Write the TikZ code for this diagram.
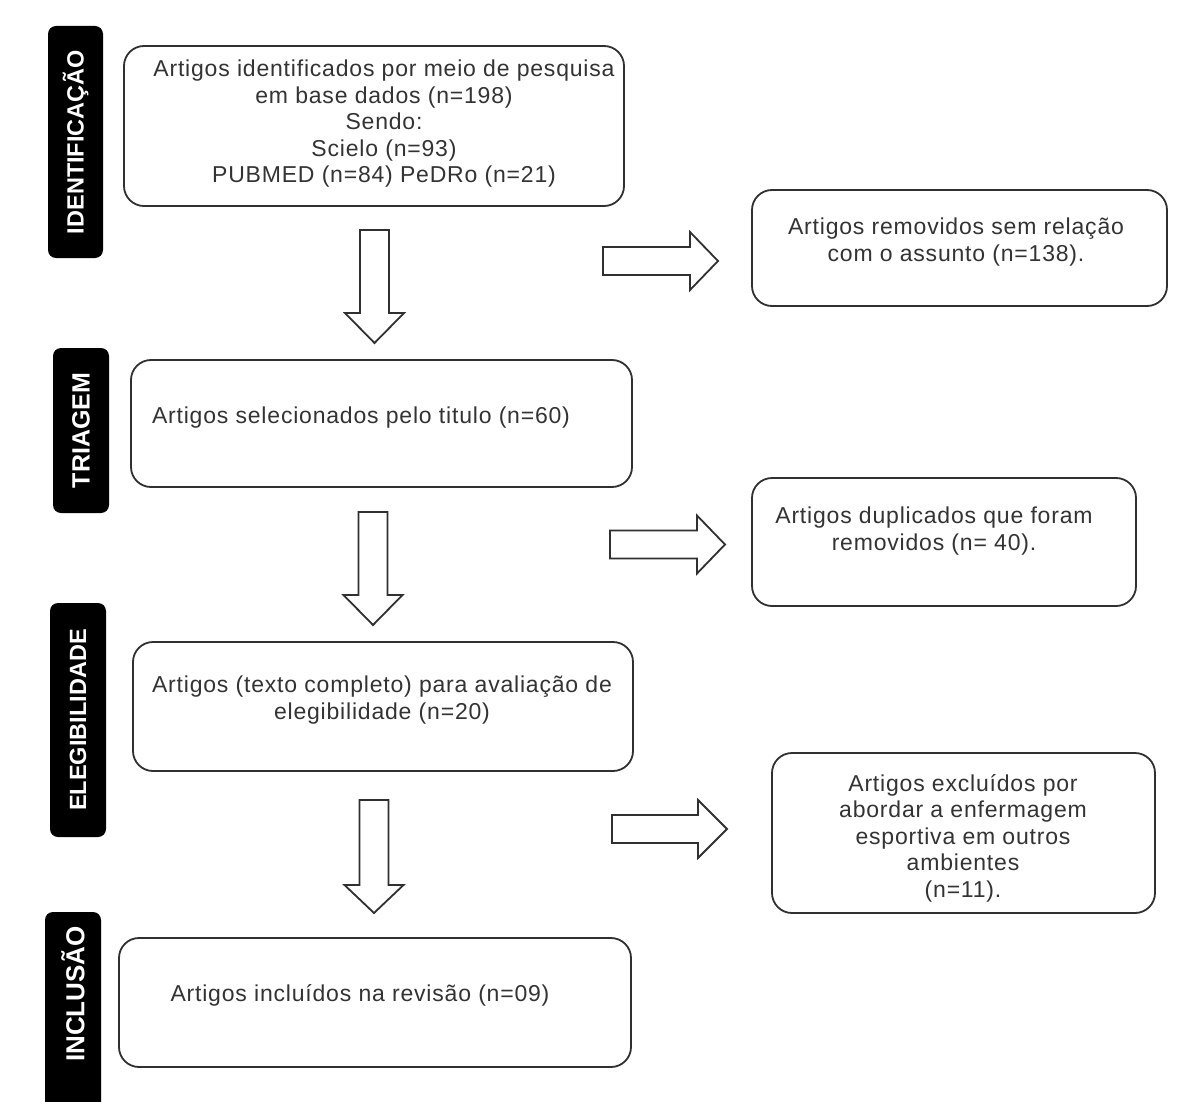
\documentclass[tikz,border=0pt]{standalone}
\usepackage{fontspec}
\setmainfont{Liberation Sans}
\newfontfamily\bodyfont[LetterSpace=3.5]{Liberation Sans}
\newfontfamily\lblfont{Liberation Sans}
\definecolor{linec}{HTML}{303030}
\definecolor{textc}{HTML}{333333}
\newcommand\DArr[4]{%
  \draw[blk] (#1-14.5,#2) -- (#1+14.5,#2) -- (#1+14.5,#3) -- (#1+29.5,#3) -- (#1,#4) -- (#1-29.5,#3) -- (#1-14.5,#3) -- cycle;}
\newcommand\RArr[4]{%
  \draw[blk] (#1,#2-14) -- (#3,#2-14) -- (#3,#2-29) -- (#4,#2) -- (#3,#2+29) -- (#3,#2+14) -- (#1,#2+14) -- cycle;}
\begin{document}
\begin{tikzpicture}[x=1pt,y=-1pt,
  box/.style={draw=linec, line width=1.8pt, rounded corners=20pt, fill=white, inner sep=0pt},
  lbl/.style={fill=black, rounded corners=8pt, inner sep=0pt, text=white, rotate=90,
              font=\lblfont\bfseries\fontsize{23.5}{26}\selectfont},
  lbltxt/.style={inner sep=0pt, text=white, rotate=90, font=\lblfont\bfseries\fontsize{25}{26}\selectfont},
  txt/.style={align=center, text=textc, inner sep=0pt,
              font=\bodyfont\fontsize{23}{26.5}\selectfont},
  blk/.style={draw=linec, line width=1.8pt, fill=white, line join=miter}
]
\useasboundingbox (0,0) rectangle (1196,1102);
\fill[white] (0,0) rectangle (1196,1102);

% stage labels
\node[lbl, minimum width=232pt, minimum height=55pt] (l1) at (75.5,142) {IDENTIFICAÇÃO};
\node[lbl, minimum width=165pt, minimum height=56pt, font=\lblfont\bfseries\fontsize{25}{26}\selectfont] (l2) at (81,430.5) {TRIAGEM};
\node[lbl, minimum width=234pt, minimum height=56pt] (l3) at (78,720) {ELEGIBILIDADE};
\begin{scope}
\clip (0,0) rectangle (1196,1102);
\node[lbl, minimum width=210pt, minimum height=56pt] (l4) at (73,1017) {};
\end{scope}
\node[lbltxt, font=\lblfont\bfseries\fontsize{26}{26}\selectfont] (l4t) at (73,994) {INCLUSÃO};

% boxes
\node[box, minimum width=500pt, minimum height=160pt] (b1) at (374,126) {};
\node[txt] (t1) at (384,124) {Artigos identificados por meio de pesquisa\\em base dados (n=198)\\Sendo:\\Scielo (n=93)\\PUBMED (n=84) PeDRo (n=21)};

\node[box, minimum width=415pt, minimum height=116pt] (b2) at (959.5,248) {};
\node[txt] (t2) at (956,242) {Artigos removidos sem relação\\com o assunto (n=138).};

\node[box, minimum width=501pt, minimum height=127pt] (b3) at (381.5,423.5) {};
\node[txt] (t3) at (361,418) {Artigos selecionados pelo titulo (n=60)};

\node[box, minimum width=384pt, minimum height=128pt] (b4) at (944,542) {};
\node[txt] (t4) at (934,531) {Artigos duplicados que foram\\removidos (n= 40).};

\node[box, minimum width=500pt, minimum height=129pt] (b5) at (383,706.5) {};
\node[txt] (t5) at (382,700) {Artigos (texto completo) para avaliação de\\elegibilidade (n=20)};

\node[box, minimum width=383pt, minimum height=160pt] (b6) at (963.5,833) {};
\node[txt] (t6) at (963,838) {Artigos excluídos por\\abordar a enfermagem\\esportiva em outros\\ambientes\\(n=11).};

\node[box, minimum width=512pt, minimum height=129pt] (b7) at (375,1002.5) {};
\node[txt] (t7) at (360,995) {Artigos incluídos na revisão (n=09)};

% block arrows
\DArr{374.5}{230}{313}{343}
\DArr{373}{512}{595}{625}
\DArr{374}{800}{885}{913}
\RArr{603}{261}{690}{718}
\RArr{610}{544.5}{697}{725}
\RArr{612}{829}{698}{727}
\end{tikzpicture}
\end{document}
